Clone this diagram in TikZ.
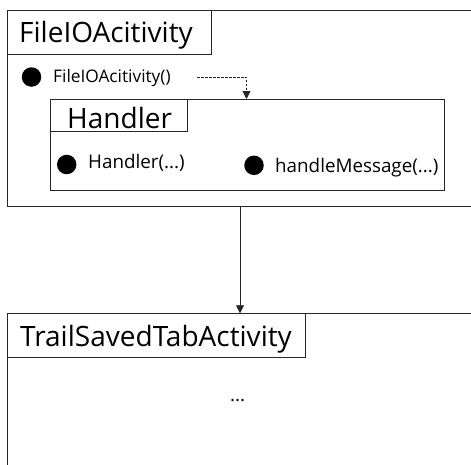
\documentclass[tikz,border=0pt]{standalone}
\usepackage{fontspec}
\setmainfont{Open Sans}
\usetikzlibrary{arrows.meta}
\tikzset{
  ln/.style={draw=black!85, line width=0.8pt},
  big/.style={inner sep=0pt, anchor=base west, font=\fontsize{28}{32}\selectfont},
  small/.style={inner sep=0pt, anchor=base west, font=\fontsize{18.8}{22}\selectfont},
  smaller/.style={inner sep=0pt, anchor=base west, font=\fontsize{17.3}{21}\selectfont},
  dot/.style={circle, fill=black, minimum size=19.5pt, inner sep=0pt},
  arr/.style={ln, -{Triangle[length=8pt,width=8pt]}},
}
\begin{document}
\begin{tikzpicture}[x=1pt,y=-1pt]
\useasboundingbox (0,0) rectangle (471,464);
% outer FileIOAcitivity box (open to the right)
\draw[ln] (480,10) -- (7,10) -- (7,206.5) -- (480,206.5);
\draw[ln] (7,54.3) -- (211,54.3) -- (211,10);
\node[big] (t1) at (19,42.5) {FileIOAcitivity};
\node[dot] (d1) at (31.5,77) {};
\node[smaller] (f1) at (53,82) {FileIOAcitivity()};
% Handler box
\node[draw=black!85, line width=0.8pt, minimum width=394.5pt, minimum height=91pt, anchor=north west, inner sep=0pt] (hb) at (49.5,99) {};
\draw[ln] (hb.north west) ++(0,32) -- ++(138,0) -- ++(0,-32);
\node[big] (t2) at (67,128) {Handler};
\node[dot] (d2) at (66.7,164.5) {};
\node[small] (h1) at (88,168) {Handler(...)};
\node[dot] (d3) at (254,165.3) {};
\node[small] (h2) at (275,172) {handleMessage(...)};
\coordinate (c1) at (246.5,77);
\draw[arr, dashed, dash pattern=on 2.5pt off 1.5pt] (197,77) -- (c1) -- (c1 |- hb.north);
% TrailSavedTabActivity box
\draw[ln] (480,313.3) -- (7,313.3) -- (7,470);
\draw[ln] (7,357.7) -- (305,357.7) -- (305,313.3);
\node[big] (t3) at (20,346.7) {TrailSavedTabActivity};
\node[small] (e1) at (230,401) {...};
\coordinate (top2) at (240,313.3);
\draw[arr] (240,206.5) -- (top2);
\end{tikzpicture}
\end{document}
